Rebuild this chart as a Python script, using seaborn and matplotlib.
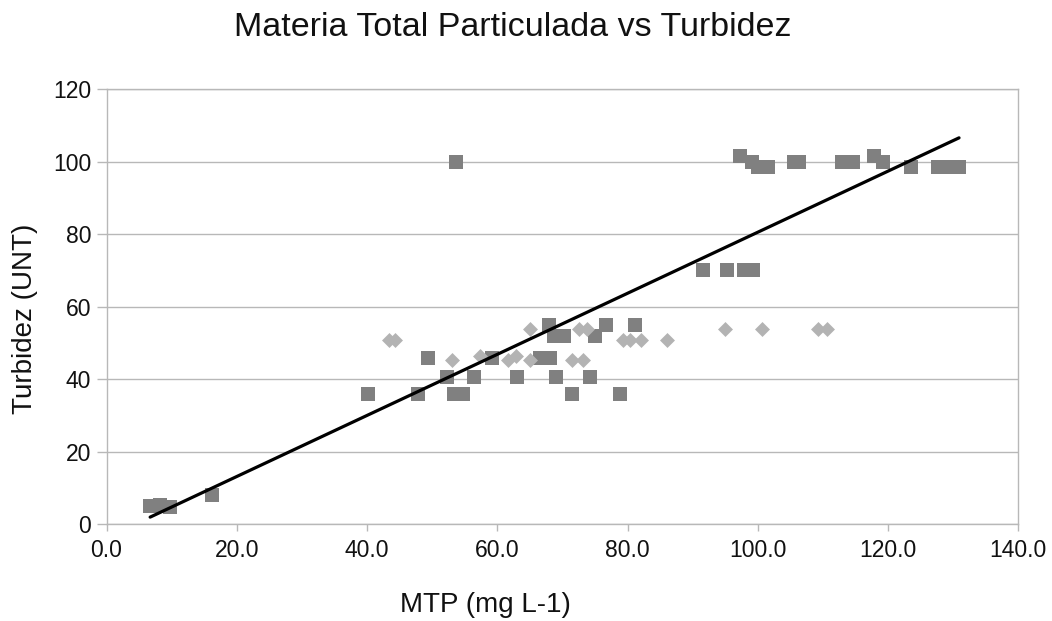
import matplotlib
matplotlib.use("Agg")
import matplotlib.pyplot as plt
import seaborn as sns
import numpy as np
import pandas as pd

# --- data ---
sq_x = [6.7, 8.2, 9.7, 16.2,
        40.1, 47.8, 53.4, 54.8, 71.4, 78.9,
        52.3, 56.5, 63.1, 69.0, 74.2,
        49.3, 59.2, 66.6, 68.1,
        68.7, 70.3, 75.0,
        67.9, 76.7, 81.2,
        53.7,
        91.6, 95.3, 97.9, 99.3,
        97.3, 99.1, 100.1, 101.5, 105.5, 106.4, 112.9, 114.6, 117.8, 119.3,
        123.5, 127.7, 129.4, 130.9]
sq_y = [5.0, 5.2, 4.8, 7.9,
        36, 36, 36, 36, 36, 36,
        40.7, 40.7, 40.7, 40.7, 40.7,
        45.7, 45.7, 45.7, 45.7,
        52, 52, 52,
        55, 55, 55,
        100,
        70, 70, 70, 70,
        101.7, 99.8, 98.5, 98.5, 99.8, 99.8, 99.8, 99.8, 101.7, 99.8,
        98.5, 98.5, 98.5, 98.5]

dm_x = [43.3, 44.3, 53.0, 57.3, 61.7, 62.9, 65.1, 65.1, 71.5, 73.2,
        72.5, 73.8, 79.3, 80.4, 82.0, 86.0, 95.0, 100.6, 109.3, 110.6]
dm_y = [50.8, 50.8, 45.3, 46.4, 45.3, 46.4, 45.3, 53.9, 45.3, 45.3,
        53.9, 53.9, 50.8, 50.8, 50.8, 50.8, 53.9, 53.9, 53.9, 53.9]

trend_slope = 0.843
trend_intercept = -3.75

x_ticks = [0, 20, 40, 60, 80, 100, 120, 140]
y_ticks = [0, 20, 40, 60, 80, 100, 120]

title = "Materia Total Particulada vs Turbidez"
xlabel = "MTP (mg L-1)"
ylabel = "Turbidez (UNT)"

# --- plotting ---
sns.set_theme(style="white")
plt.rcParams["font.family"] = ["Liberation Sans", "DejaVu Sans"]

W, H = 1052, 621
fig = plt.figure(figsize=(W / 100, H / 100), dpi=100)
ax = fig.add_axes([106.5 / W, 1 - 524 / H, (1018.3 - 106.5) / W, (524 - 89.3) / H])

grid_col = "#b8b8b8"
ax.set_axisbelow(True)
ax.grid(True, axis="y", color=grid_col, linewidth=1.0)
ax.grid(False, axis="x")

sq = pd.DataFrame({"x": sq_x, "y": sq_y})
dm = pd.DataFrame({"x": dm_x, "y": dm_y})

sns.scatterplot(data=sq, x="x", y="y", marker="s", s=100, color="#808080",
                linewidth=0, ax=ax, zorder=3)
sns.scatterplot(data=dm, x="x", y="y", marker="D", s=58, color="#b3b3b3",
                linewidth=0, ax=ax, zorder=4)

tx = np.array([min(sq_x), max(sq_x)])
trend = pd.DataFrame({"x": tx, "y": trend_slope * tx + trend_intercept})
sns.lineplot(data=trend, x="x", y="y", color="black", linewidth=2.3, ax=ax, zorder=5)

ax.set_xlim(0, 140)
ax.set_ylim(0, 120)
ax.set_xticks(x_ticks)
ax.set_xticklabels([f"{v:.1f}" for v in x_ticks])
ax.set_yticks(y_ticks)
ax.set_yticklabels([str(v) for v in y_ticks])

for s in ax.spines.values():
    s.set_color(grid_col)
    s.set_linewidth(1.0)

ax.tick_params(axis="y", which="major", left=True, length=7, width=1, color=grid_col,
               labelsize=16.5, pad=4, labelcolor="#111111")
ax.tick_params(axis="x", which="major", bottom=True, length=5, width=1, color=grid_col,
               labelsize=16.5, pad=6, labelcolor="#111111")

ax.set_xlabel("")
ax.set_ylabel("")
fig.text(485 / W, 1 - 605 / H, xlabel, ha="center", va="center", fontsize=20, color="#111111")
fig.text(25 / W, 1 - 319 / H, ylabel, ha="center", va="center", rotation=90,
         fontsize=20, color="#111111")
fig.text(513 / W, 1 - 27 / H, title, ha="center", va="center", fontsize=24.5, color="#111111")

fig.savefig("out.png", dpi=100)
